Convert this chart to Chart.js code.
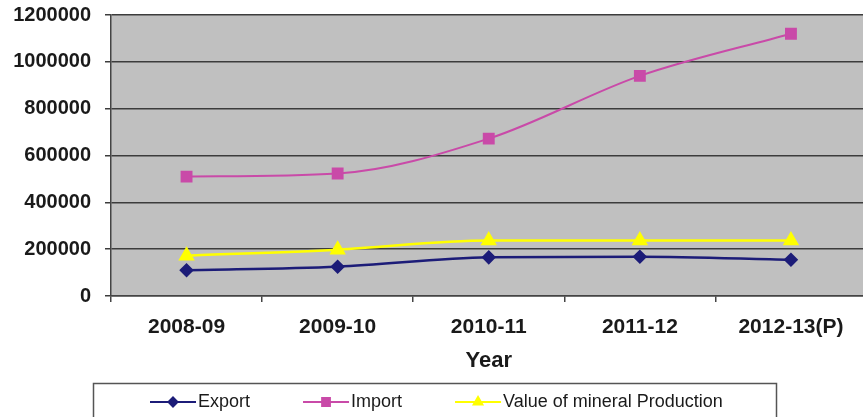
<!DOCTYPE html>
<html>
<head>
<meta charset="utf-8">
<title>Export / Import / Value of mineral Production</title>
<script src="https://cdn.jsdelivr.net/npm/chart.js@4.4.1/dist/chart.umd.min.js"></script>
<style>
    html, body { margin: 0; padding: 0; background: #fff; overflow: hidden; }
    #wrap { position: relative; width: 876px; height: 417px; }
</style>
</head>
<body>
<div id="wrap"><canvas id="mineralChart"></canvas></div>
<script>
// 年度
const years = ['2008-09', '2009-10', '2010-11', '2011-12', '2012-13(P)'];
// 出口
const exportValues = [110000, 125000, 165000, 168000, 155000];
// 进口
const importValues = [510000, 523000, 672000, 940000, 1120000];
// 矿产产值
const productionValues = [172000, 198000, 237000, 237000, 237000];
// 纵轴刻度
const yTicks = [0, 200000, 400000, 600000, 800000, 1000000, 1200000];

const FONT = '"Liberation Sans", Arial, sans-serif';

// 绘图区灰色底
const plotBackground = {
    id: 'plotBackground',
    beforeDraw(chart) {
        const { ctx, chartArea } = chart;
        ctx.save();
        ctx.fillStyle = '#c0c0c0';
        ctx.fillRect(chartArea.left, chartArea.top, chartArea.right - chartArea.left, chartArea.bottom - chartArea.top);
        ctx.restore();
    }
};

// 底部带边框的图例（线段 + 标记）
const boxLegend = {
    id: 'boxLegend',
    afterDraw(chart) {
        const ctx = chart.ctx;
        const y = 402;
        ctx.save();
        ctx.strokeStyle = '#555';
        ctx.lineWidth = 1.5;
        ctx.strokeRect(93.5, 383.5, 683, 60);

        ctx.font = '18px ' + FONT;
        ctx.textBaseline = 'middle';
        let x = 150;
        chart.data.datasets.forEach(ds => {
            ctx.strokeStyle = ds.borderColor;
            ctx.lineWidth = 2;
            ctx.beginPath();
            ctx.moveTo(x, y);
            ctx.lineTo(x + 46, y);
            ctx.stroke();
            ctx.fillStyle = ds.pointBackgroundColor;
            ctx.strokeStyle = ds.pointBorderColor;
            Chart.helpers.drawPoint(ctx, {
                pointStyle: ds.pointStyle,
                radius: ds.legendRadius,
                rotation: 0,
                borderWidth: 1
            }, x + 23, y);
            ctx.fillStyle = '#1a1a1a';
            ctx.fillText(ds.label, x + 48, y);
            x += 48 + ctx.measureText(ds.label).width + 53;
        });
        ctx.restore();
    }
};

function initMineralChart() {
    const ctx = document.getElementById('mineralChart');
    if (!ctx) return;
    new Chart(ctx, {
        type: 'line',
        data: {
            labels: years,
            datasets: [{
                label: 'Export',
                data: exportValues,
                borderColor: '#1c1c78',
                backgroundColor: '#1c1c78',
                pointBackgroundColor: '#1c1c78',
                pointBorderColor: '#1c1c78',
                pointStyle: 'rectRot',
                pointRadius: 5.5,
                legendRadius: 4.5,
                borderWidth: 2.5
            }, {
                label: 'Import',
                data: importValues,
                borderColor: '#c94aa8',
                backgroundColor: '#c94aa8',
                pointBackgroundColor: '#c94aa8',
                pointBorderColor: '#c94aa8',
                pointStyle: 'rect',
                pointRadius: 7,
                legendRadius: 5.5,
                borderWidth: 2
            }, {
                label: 'Value of mineral Production',
                data: productionValues,
                borderColor: '#ffff00',
                backgroundColor: '#ffff00',
                pointBackgroundColor: '#ffff00',
                pointBorderColor: '#ffff00',
                pointStyle: 'triangle',
                pointRadius: 7,
                legendRadius: 5,
                borderWidth: 2.5
            }]
        },
        options: {
            responsive: true,
            maintainAspectRatio: false,
            animation: false,
            elements: {
                line: { cubicInterpolationMode: 'monotone' }
            },
            layout: {
                padding: { left: 0, right: 2, top: 15, bottom: 45 }
            },
            scales: {
                x: {
                    offset: true,
                    grid: {
                        offset: true,
                        drawOnChartArea: false,
                        drawTicks: true,
                        tickLength: 6,
                        color: '#444',
                        lineWidth: 1.5
                    },
                    border: { color: '#444', width: 1.5 },
                    ticks: {
                        color: '#1a1a1a',
                        padding: 13,
                        maxRotation: 0,
                        font: { family: FONT, size: 21, weight: 'bold' }
                    },
                    title: {
                        display: true,
                        text: 'Year',
                        color: '#1a1a1a',
                        padding: { top: 0, bottom: 0 },
                        font: { family: FONT, size: 22, weight: 'bold', lineHeight: 1 }
                    },
                    afterFit(scale) { scale.height = 76; }
                },
                y: {
                    min: 0,
                    max: 1200000,
                    afterBuildTicks(scale) {
                        scale.ticks = yTicks.map(v => ({ value: v }));
                    },
                    grid: {
                        color: '#3c3c3c',
                        lineWidth: 1.5,
                        tickLength: 6
                    },
                    border: { color: '#444', width: 1.5 },
                    ticks: {
                        color: '#1a1a1a',
                        padding: 14,
                        font: { family: FONT, size: 20, weight: 'bold' },
                        callback: v => String(v)
                    },
                    afterFit(scale) {
                        scale.width = 111;
                        scale.paddingTop = 0;
                        scale.paddingBottom = 0;
                    }
                }
            },
            plugins: {
                legend: { display: false },
                tooltip: { enabled: false }
            }
        },
        plugins: [plotBackground, boxLegend]
    });
}

document.addEventListener('DOMContentLoaded', function() {
    initMineralChart();
});
</script>
</body>
</html>
